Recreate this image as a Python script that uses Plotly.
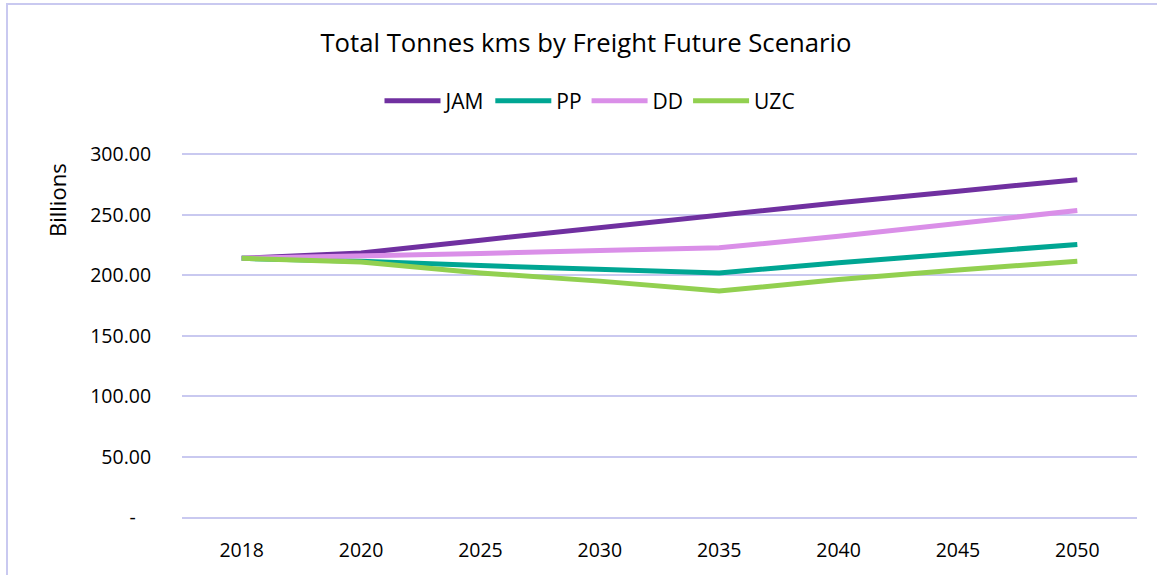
import plotly.graph_objects as go

years = ["2018", "2020", "2025", "2030", "2035", "2040", "2045", "2050"]
jam = [214.0, 218.5, 229.0, 239.5, 250.5, 260.0, 269.5, 279.0]
pp = [214.0, 211.7, 208.0, 204.8, 202.0, 210.4, 217.8, 225.5]
dd = [214.0, 215.8, 218.0, 220.5, 222.7, 232.3, 242.8, 253.5]
uzc = [214.0, 210.9, 202.0, 195.2, 187.0, 196.6, 204.3, 211.7]

series = [("JAM", jam, "#7030A0"), ("PP", pp, "#00A693"),
          ("DD", dd, "#DA8FE8"), ("UZC", uzc, "#92D050")]

tick_vals = [0, 50, 100, 150, 200, 250, 300]
tick_text = ["-\u00a0\u00a0\u00a0", "50.00", "100.00", "150.00", "200.00", "250.00", "300.00"]

FONT = "Open Sans"
fig = go.Figure()
for name, vals, col in series:
    fig.add_trace(go.Scatter(x=years, y=vals, name=name, mode="lines",
                             line=dict(color=col, width=5)))

W, H = 1157, 575
L, R, T, B = 182, 20, 153, 57
pw, ph = W - L - R, H - T - B

fig.update_layout(
    width=W, height=H,
    margin=dict(l=L, r=R, t=T, b=B),
    paper_bgcolor="white", plot_bgcolor="white",
    font=dict(family=FONT, size=19, color="#000000"),
    title=dict(text="Total Tonnes kms by Freight Future Scenario",
               x=586 / W, xanchor="center", y=1 - 43 / H, yanchor="middle",
               font=dict(family=FONT, size=25.7, color="#000000")),
    legend=dict(orientation="h", x=(590 - L) / pw, xanchor="center", y=(H - B - 101) / ph,
                yanchor="middle", itemwidth=56, font=dict(size=21), traceorder="normal"),
    xaxis=dict(type="category", range=[-0.5, 7.5], showgrid=False, showline=False,
               zeroline=False, ticks="outside", ticklen=15, tickcolor="rgba(0,0,0,0)",
               tickfont=dict(size=19.5)),
    yaxis=dict(range=[-0.4, 301], tickvals=tick_vals, ticktext=tick_text,
               showgrid=True, gridcolor="#C9C9F0", gridwidth=1.5,
               zeroline=True, zerolinecolor="#C9C9F0", zerolinewidth=1.5,
               showline=False,
               ticks="outside", ticklen=26, tickcolor="rgba(0,0,0,0)",
               tickfont=dict(size=19.5)),
    showlegend=True,
)

fig.add_annotation(text="Billions", xref="paper", yref="paper",
                   x=(57 - L) / pw, y=(H - B - 200) / ph, textangle=-90,
                   showarrow=False, xanchor="center", yanchor="middle",
                   font=dict(family=FONT, size=22))

fig.add_shape(type="rect", xref="paper", yref="paper",
              x0=(7 - L) / pw, x1=1.2, y0=-0.3, y1=(H - B - 4) / ph,
              line=dict(color="#C9C9F0", width=2), fillcolor="rgba(0,0,0,0)",
              layer="below")

fig.write_html("out.html", config={"displayModeBar": False},
               post_script="document.body.style.margin='0';document.body.style.overflow='hidden';")
